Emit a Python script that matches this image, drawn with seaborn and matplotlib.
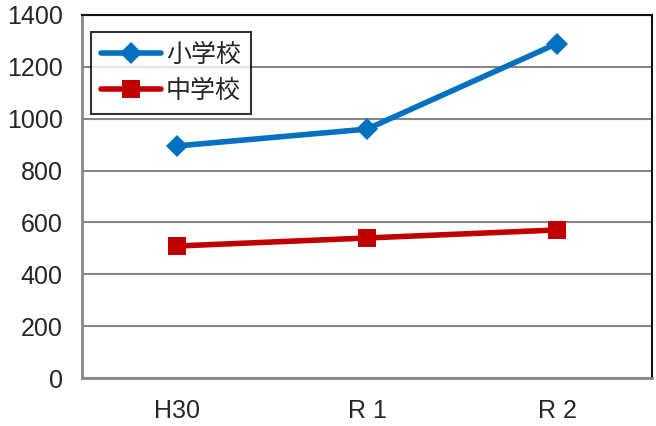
import matplotlib
matplotlib.use("Agg")
import matplotlib.pyplot as plt
from matplotlib.lines import Line2D
import seaborn as sns
import pandas as pd

years = ["H30", "R 1", "R 2"]
elementary = [895, 960, 1290]
junior_high = [509, 540, 571]
series_names = ["小学校", "中学校"]
y_ticks = [0, 200, 400, 600, 800, 1000, 1200, 1400]

df = pd.DataFrame({
    "year": years * 2,
    "pos": list(range(len(years))) * 2,
    "count": elementary + junior_high,
    "school": [series_names[0]] * len(years) + [series_names[1]] * len(years),
})

sns.set_theme(style="white")
plt.rcParams["font.family"] = ["Liberation Sans", "Noto Sans CJK JP", "DejaVu Sans"]

fig = plt.figure(figsize=(6.56, 4.26), dpi=100)
ax = fig.add_axes([82 / 656, 1 - 378 / 426, 570 / 656, 363 / 426])

palette = {series_names[0]: "#0070C0", series_names[1]: "#C00000"}
markers = {series_names[0]: "D", series_names[1]: "s"}

sns.lineplot(data=df, x="pos", y="count", hue="school", style="school",
             palette=palette, markers=markers, dashes=False,
             linewidth=4, markersize=13, markeredgewidth=0, ax=ax, legend=False)
# diamonds drawn a little smaller than the squares
for line in ax.lines:
    if line.get_marker() == "D":
        line.set_markersize(11)

ax.set_xlim(-0.5, 2.5)
ax.set_ylim(0, 1400)
ax.set_yticks(y_ticks)
ax.set_xticks([-0.5, 0.5, 1.5, 2.5], minor=False)
ax.set_xticklabels([])
ax.set_xticks(range(len(years)), minor=True)
ax.set_xticklabels(years, minor=True)
ax.tick_params(axis="x", which="minor", length=0, pad=15, labelsize=18)
ax.tick_params(axis="x", which="major", length=6, width=1.5, color="#888888", direction="out")
ax.tick_params(axis="y", length=5, width=1.5, color="#888888", direction="out", labelsize=18, pad=9)
ax.set_xlabel("")
ax.set_ylabel("")

ax.grid(axis="y", color="#878787", linewidth=1.5)
ax.set_axisbelow(True)
for side in ["left", "bottom"]:
    ax.spines[side].set_color("#888888")
    ax.spines[side].set_linewidth(2)
for side in ["top", "right"]:
    ax.spines[side].set_color("#111111")
    ax.spines[side].set_linewidth(1.5)

handles = [
    Line2D([], [], color=palette[series_names[0]], marker="D", linewidth=4, markersize=11, markeredgewidth=0),
    Line2D([], [], color=palette[series_names[1]], marker="s", linewidth=4, markersize=13, markeredgewidth=0),
]
leg = ax.legend(handles, series_names, loc="upper left", bbox_to_anchor=(9 / 570, 1 - 17 / 363),
                frameon=True, fancybox=False, edgecolor="black",
                prop={"family": ["Noto Sans CJK JP"], "size": 18},
                handlelength=2.4, borderpad=0.4, labelspacing=0.4, handletextpad=0.2,
                borderaxespad=0)
leg.get_frame().set_linewidth(1.5)

fig.savefig("out.png", dpi=100)
